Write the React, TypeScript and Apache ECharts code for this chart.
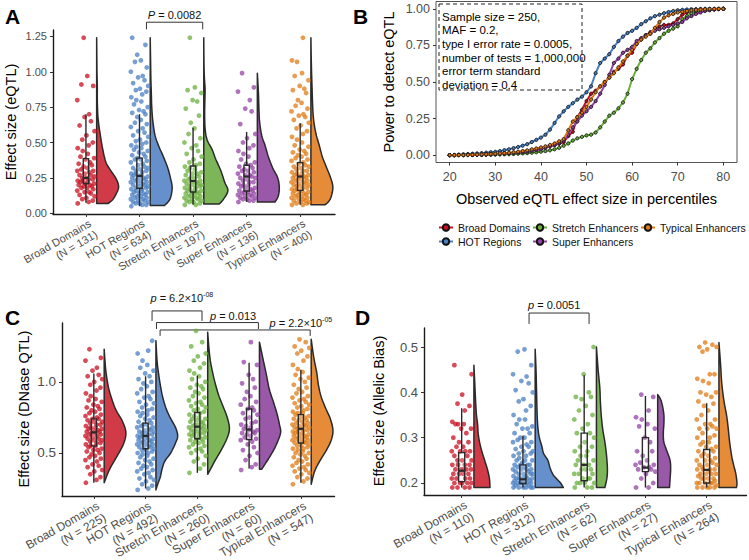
import React, { useEffect, useRef } from "react";
import * as echarts from "echarts";

const FONT = "'Liberation Sans', Arial, Helvetica, sans-serif";

const GROUPS = ["Broad Domains", "HOT Regions", "Stretch Enhancers", "Super Enhancers", "Typical Enhancers"];
const N_A = [131, 634, 197, 136, 400];
const N_C = [225, 492, 260, 60, 547];
const N_D = [110, 312, 62, 27, 264];

const POINT_COLORS = ["#C90F22", "#4A7FC1", "#6AAF3C", "#9344A3", "#E07B14"];
const VIOLIN_COLORS = ["#D13B47", "#6690CB", "#7DB658", "#9A58A8", "#E68C38"];

// ---------- Panel A (eQTL) ----------
const A_BROAD = [0.07,0.08,0.09,0.10,0.11,0.12,0.13,0.14,0.15,0.15,0.16,0.17,0.18,0.18,0.19,0.19,0.20,0.20,0.21,0.21,0.22,0.22,0.23,0.23,0.24,0.24,0.25,0.25,0.26,0.27,0.27,0.28,0.29,0.30,0.30,0.31,0.32,0.33,0.34,0.35,0.36,0.38,0.39,0.40,0.42,0.44,0.46,0.48,0.50,0.52,0.55,0.58,0.62,0.65,0.68,0.70,0.80,0.90,0.91,0.97,1.24];
const A_HOT = [0.05,0.06,0.06,0.07,0.07,0.08,0.08,0.09,0.09,0.10,0.10,0.11,0.11,0.12,0.12,0.13,0.13,0.14,0.14,0.15,0.15,0.16,0.16,0.17,0.17,0.18,0.18,0.19,0.19,0.20,0.20,0.21,0.21,0.22,0.22,0.23,0.23,0.24,0.24,0.25,0.25,0.26,0.26,0.27,0.27,0.28,0.28,0.29,0.30,0.30,0.31,0.32,0.32,0.33,0.34,0.35,0.36,0.37,0.38,0.38,0.39,0.40,0.41,0.42,0.43,0.44,0.45,0.46,0.47,0.48,0.49,0.50,0.51,0.52,0.54,0.55,0.57,0.58,0.60,0.61,0.63,0.64,0.66,0.68,0.70,0.71,0.72,0.73,0.75,0.77,0.79,0.80,0.82,0.84,0.86,0.87,0.88,0.90,0.92,0.94,0.96,0.97,1.00,1.03,1.07,1.08,1.12,1.19,1.24];
const A_STRETCH = [0.06,0.06,0.07,0.08,0.08,0.09,0.09,0.10,0.10,0.11,0.11,0.12,0.12,0.13,0.13,0.14,0.14,0.15,0.15,0.16,0.16,0.17,0.17,0.18,0.18,0.19,0.19,0.20,0.20,0.21,0.21,0.22,0.22,0.23,0.23,0.24,0.25,0.25,0.26,0.27,0.28,0.28,0.29,0.30,0.31,0.32,0.33,0.34,0.35,0.36,0.38,0.40,0.42,0.44,0.46,0.48,0.50,0.53,0.56,0.60,0.64,0.69,0.74,0.79,0.80,0.85,0.87,0.89,1.24];
const A_SUPER = [0.08,0.09,0.09,0.10,0.10,0.11,0.11,0.12,0.12,0.13,0.13,0.14,0.14,0.15,0.15,0.16,0.16,0.17,0.18,0.18,0.19,0.20,0.20,0.21,0.22,0.22,0.23,0.24,0.25,0.25,0.26,0.27,0.27,0.28,0.29,0.30,0.30,0.31,0.32,0.33,0.34,0.35,0.36,0.38,0.40,0.42,0.44,0.46,0.48,0.50,0.53,0.56,0.63,0.72,0.74,0.80,0.86,0.89,0.99];
const A_TYPICAL = [0.06,0.06,0.07,0.07,0.08,0.08,0.09,0.09,0.10,0.10,0.11,0.11,0.12,0.12,0.13,0.13,0.14,0.14,0.15,0.15,0.16,0.16,0.17,0.17,0.18,0.18,0.19,0.19,0.20,0.20,0.21,0.21,0.22,0.22,0.23,0.23,0.24,0.24,0.25,0.25,0.26,0.26,0.27,0.27,0.28,0.28,0.29,0.30,0.30,0.31,0.32,0.33,0.33,0.34,0.35,0.36,0.37,0.38,0.39,0.40,0.41,0.42,0.43,0.44,0.45,0.47,0.48,0.50,0.52,0.54,0.56,0.58,0.60,0.62,0.64,0.66,0.68,0.69,0.70,0.72,0.74,0.76,0.78,0.80,0.85,0.87,0.88,0.90,0.94,0.97,0.99,1.07,1.08,1.24];
// [lower whisker, Q1, median, Q3, upper whisker]
const A_BOXES = [
  [0.075, 0.21, 0.25, 0.386, 0.70],
  [0.05, 0.177, 0.264, 0.39, 0.70],
  [0.06, 0.15, 0.228, 0.334, 0.605],
  [0.08, 0.157, 0.26, 0.339, 0.575],
  [0.06, 0.162, 0.26, 0.358, 0.636],
];
// [value, relative density]
const A_VIOLIN_BROAD = [[0.07,0.53],[0.10,0.75],[0.15,0.93],[0.19,1.0],[0.24,0.9],[0.30,0.65],[0.35,0.45],[0.40,0.35],[0.45,0.28],[0.50,0.22],[0.55,0.17],[0.60,0.12],[0.65,0.08],[0.70,0.05],[0.80,0.03],[0.90,0.03],[1.0,0.015],[1.24,0.0]];
const A_VIOLIN_HOT = [[0.055,0.65],[0.10,0.9],[0.18,1.0],[0.25,0.92],[0.32,0.8],[0.40,0.6],[0.47,0.4],[0.55,0.22],[0.65,0.12],[0.75,0.07],[0.85,0.05],[0.95,0.03],[1.05,0.02],[1.24,0.0]];
const A_VIOLIN_STRETCH = [[0.065,0.7],[0.10,0.9],[0.16,1.1],[0.22,0.95],[0.30,0.78],[0.38,0.55],[0.45,0.38],[0.52,0.15],[0.60,0.06],[0.70,0.04],[0.80,0.05],[0.88,0.06],[0.95,0.03],[1.05,0.01],[1.24,0.0]];
const A_VIOLIN_SUPER = [[0.08,0.8],[0.12,0.95],[0.18,1.0],[0.25,0.93],[0.32,0.7],[0.40,0.5],[0.48,0.35],[0.55,0.2],[0.65,0.1],[0.75,0.07],[0.85,0.05],[0.99,0.0]];
const A_VIOLIN_TYPICAL = [[0.06,0.65],[0.10,0.88],[0.18,1.0],[0.25,0.9],[0.32,0.72],[0.40,0.52],[0.48,0.38],[0.55,0.25],[0.62,0.16],[0.70,0.10],[0.80,0.07],[0.90,0.05],[1.0,0.03],[1.10,0.015],[1.24,0.0]];

// ---------- Panel B (power curves) ----------
const PERCENTILES = [20,21,22,23,24,25,26,27,28,29,30,31,32,33,34,35,36,37,38,39,40,41,42,43,44,45,46,47,48,49,50,51,52,53,54,55,56,57,58,59,60,61,62,63,64,65,66,67,68,69,70,71,72,73,74,75,76,77,78,79,80];
const B_BROAD = [0,0,0.001,0.001,0.002,0.002,0.003,0.004,0.005,0.006,0.008,0.01,0.012,0.014,0.017,0.02,0.024,0.028,0.033,0.038,0.045,0.055,0.062,0.07,0.078,0.09,0.13,0.16,0.26,0.31,0.37,0.42,0.44,0.47,0.50,0.53,0.57,0.59,0.62,0.68,0.70,0.76,0.79,0.82,0.84,0.86,0.88,0.89,0.89,0.90,0.93,0.96,0.975,0.985,0.99,0.993,0.995,0.997,0.998,0.999,1];
const B_HOT = [0,0.002,0.004,0.006,0.008,0.01,0.012,0.014,0.017,0.02,0.023,0.028,0.034,0.04,0.048,0.056,0.065,0.075,0.09,0.105,0.12,0.14,0.175,0.22,0.265,0.30,0.33,0.355,0.38,0.40,0.43,0.47,0.56,0.63,0.66,0.69,0.74,0.78,0.81,0.835,0.85,0.87,0.895,0.915,0.935,0.95,0.96,0.97,0.978,0.985,0.99,0.993,0.995,0.997,0.998,0.999,1,1,1,1,1];
const B_STRETCH = [0,0,0,0,0.001,0.001,0.002,0.002,0.003,0.003,0.004,0.005,0.006,0.007,0.008,0.01,0.012,0.014,0.017,0.02,0.024,0.028,0.033,0.04,0.05,0.065,0.08,0.10,0.115,0.125,0.135,0.14,0.155,0.19,0.23,0.27,0.29,0.32,0.36,0.42,0.52,0.59,0.65,0.70,0.73,0.77,0.80,0.83,0.85,0.865,0.88,0.93,0.95,0.97,0.98,0.985,0.99,0.993,0.996,0.998,1];
const B_SUPER = [0,0,0.001,0.001,0.002,0.002,0.003,0.004,0.005,0.006,0.007,0.009,0.011,0.013,0.015,0.018,0.021,0.025,0.03,0.035,0.04,0.05,0.06,0.07,0.085,0.10,0.14,0.19,0.23,0.27,0.30,0.33,0.37,0.42,0.48,0.55,0.63,0.66,0.70,0.72,0.74,0.78,0.80,0.82,0.83,0.85,0.86,0.87,0.88,0.89,0.90,0.91,0.935,0.95,0.965,0.975,0.985,0.99,0.995,0.998,1];
const B_TYPICAL = [0,0,0.001,0.001,0.002,0.003,0.004,0.005,0.006,0.008,0.01,0.012,0.014,0.017,0.02,0.024,0.028,0.033,0.04,0.046,0.053,0.06,0.07,0.08,0.095,0.11,0.17,0.23,0.26,0.29,0.33,0.38,0.43,0.47,0.50,0.53,0.56,0.60,0.64,0.68,0.72,0.76,0.79,0.81,0.83,0.87,0.91,0.94,0.955,0.965,0.975,0.98,0.985,0.99,0.993,0.995,0.997,0.998,0.999,1,1];
const B_NOTE = "Sample size = 250,\nMAF = 0.2,\ntype I error rate = 0.0005,\nnumber of tests = 1,000,000\nerror term standard\ndeviation = 0.4";

// ---------- Panel C (DNase QTL) ----------
const C_BROAD = [0.29,0.31,0.33,0.35,0.37,0.38,0.40,0.41,0.42,0.44,0.45,0.46,0.47,0.48,0.49,0.50,0.51,0.52,0.52,0.53,0.54,0.55,0.55,0.56,0.57,0.57,0.58,0.59,0.59,0.60,0.60,0.61,0.62,0.62,0.63,0.63,0.64,0.64,0.65,0.65,0.66,0.66,0.67,0.67,0.68,0.68,0.69,0.70,0.70,0.71,0.72,0.72,0.73,0.74,0.74,0.75,0.76,0.77,0.78,0.79,0.80,0.81,0.82,0.83,0.84,0.86,0.87,0.88,0.90,0.92,0.94,0.96,0.98,1.00,1.02,1.04,1.05,1.08,1.10,1.15,1.17,1.23];
const C_HOT = [0.24,0.25,0.27,0.28,0.30,0.31,0.32,0.33,0.35,0.36,0.37,0.38,0.39,0.40,0.41,0.42,0.43,0.44,0.45,0.46,0.47,0.48,0.49,0.50,0.50,0.51,0.52,0.52,0.53,0.54,0.54,0.55,0.55,0.56,0.56,0.57,0.57,0.58,0.58,0.59,0.59,0.60,0.60,0.61,0.61,0.62,0.62,0.63,0.63,0.64,0.64,0.65,0.65,0.66,0.66,0.67,0.68,0.68,0.69,0.70,0.70,0.71,0.72,0.73,0.74,0.75,0.76,0.77,0.78,0.79,0.80,0.81,0.82,0.84,0.85,0.86,0.88,0.89,0.90,0.92,0.93,0.95,0.97,0.99,1.00,1.02,1.04,1.06,1.08,1.10,1.12,1.15,1.20,1.22,1.29];
const C_STRETCH = [0.36,0.39,0.42,0.44,0.46,0.48,0.50,0.51,0.52,0.53,0.54,0.55,0.56,0.57,0.58,0.58,0.59,0.60,0.60,0.61,0.62,0.62,0.63,0.63,0.64,0.64,0.65,0.65,0.66,0.66,0.67,0.67,0.68,0.68,0.69,0.69,0.70,0.70,0.71,0.72,0.72,0.73,0.74,0.74,0.75,0.76,0.77,0.78,0.79,0.80,0.81,0.82,0.83,0.84,0.85,0.86,0.87,0.89,0.90,0.92,0.93,0.95,0.96,0.97,0.98,1.00,1.02,1.04,1.06,1.08,1.10,1.13,1.15,1.18,1.20,1.25,1.28,1.36];
const C_SUPER = [0.38,0.40,0.42,0.45,0.48,0.50,0.52,0.54,0.56,0.58,0.59,0.60,0.61,0.62,0.63,0.64,0.64,0.65,0.66,0.66,0.67,0.68,0.69,0.70,0.71,0.72,0.74,0.75,0.77,0.78,0.80,0.81,0.82,0.84,0.86,0.88,0.90,0.93,0.96,0.99,1.02,1.05,1.12,1.14,1.28];
const C_TYPICAL = [0.28,0.30,0.32,0.33,0.35,0.36,0.37,0.38,0.39,0.40,0.41,0.42,0.43,0.44,0.45,0.46,0.47,0.48,0.49,0.50,0.50,0.51,0.52,0.53,0.53,0.54,0.55,0.55,0.56,0.57,0.57,0.58,0.58,0.59,0.59,0.60,0.60,0.61,0.61,0.62,0.62,0.63,0.63,0.64,0.64,0.65,0.65,0.66,0.66,0.67,0.67,0.68,0.68,0.69,0.69,0.70,0.70,0.71,0.71,0.72,0.73,0.73,0.74,0.75,0.75,0.76,0.77,0.78,0.78,0.79,0.80,0.81,0.82,0.83,0.84,0.85,0.86,0.87,0.88,0.89,0.90,0.92,0.93,0.95,0.96,0.98,1.00,1.02,1.03,1.05,1.07,1.09,1.12,1.15,1.18,1.20,1.22,1.24,1.25,1.28,1.30];
const C_BOXES = [
  [0.29, 0.55, 0.645, 0.74, 1.06],
  [0.25, 0.53, 0.62, 0.71, 1.04],
  [0.36, 0.60, 0.685, 0.785, 1.045],
  [0.39, 0.595, 0.665, 0.81, 1.135],
  [0.29, 0.57, 0.67, 0.77, 1.085],
];
const C_VIOLIN_BROAD = [[0.29,0.0],[0.35,0.15],[0.40,0.3],[0.48,0.6],[0.56,0.88],[0.64,1.0],[0.72,0.85],[0.80,0.55],[0.88,0.35],[0.96,0.2],[1.05,0.1],[1.12,0.05],[1.23,0.0]];
const C_VIOLIN_HOT = [[0.24,0.0],[0.28,0.08],[0.33,0.2],[0.38,0.27],[0.44,0.4],[0.50,0.68],[0.57,0.9],[0.62,1.0],[0.68,0.9],[0.75,0.65],[0.82,0.45],[0.90,0.3],[0.98,0.2],[1.06,0.12],[1.15,0.05],[1.29,0.0]];
const C_VIOLIN_STRETCH = [[0.35,0.0],[0.40,0.18],[0.45,0.35],[0.52,0.62],[0.60,0.88],[0.67,1.0],[0.75,0.9],[0.83,0.7],[0.90,0.52],[0.97,0.38],[1.05,0.25],[1.15,0.12],[1.25,0.05],[1.35,0.0]];
const C_VIOLIN_SUPER = [[0.385,0.1],[0.42,0.25],[0.48,0.5],[0.55,0.75],[0.64,0.97],[0.70,0.92],[0.78,0.8],[0.86,0.64],[0.95,0.45],[1.05,0.32],[1.15,0.18],[1.28,0.0]];
const C_VIOLIN_TYPICAL = [[0.28,0.0],[0.33,0.08],[0.38,0.18],[0.45,0.42],[0.52,0.7],[0.59,0.92],[0.66,1.0],[0.74,0.88],[0.82,0.65],[0.90,0.45],[0.98,0.33],[1.07,0.25],[1.17,0.12],[1.30,0.0]];

// ---------- Panel D (Allelic bias) ----------
const D_BROAD = [0.19,0.19,0.19,0.19,0.20,0.20,0.20,0.20,0.20,0.21,0.21,0.21,0.21,0.22,0.22,0.22,0.22,0.23,0.23,0.23,0.23,0.23,0.24,0.24,0.24,0.24,0.25,0.25,0.25,0.26,0.26,0.27,0.27,0.27,0.27,0.28,0.28,0.29,0.29,0.30,0.31,0.32,0.32,0.33,0.33,0.33,0.335,0.36,0.37,0.375,0.395,0.44,0.46];
const D_HOT = [0.19,0.19,0.19,0.19,0.19,0.19,0.195,0.195,0.20,0.20,0.20,0.20,0.20,0.20,0.20,0.205,0.205,0.21,0.21,0.21,0.21,0.21,0.21,0.215,0.215,0.22,0.22,0.22,0.22,0.225,0.225,0.23,0.23,0.23,0.23,0.235,0.235,0.24,0.24,0.24,0.24,0.245,0.25,0.25,0.25,0.255,0.26,0.26,0.265,0.265,0.27,0.27,0.275,0.28,0.28,0.285,0.29,0.29,0.295,0.30,0.30,0.31,0.31,0.32,0.32,0.325,0.33,0.34,0.34,0.35,0.36,0.37,0.38,0.385,0.40,0.405,0.42,0.425,0.435,0.44,0.46,0.49,0.495];
const D_STRETCH = [0.19,0.19,0.19,0.20,0.20,0.20,0.20,0.21,0.21,0.21,0.22,0.22,0.22,0.23,0.23,0.23,0.24,0.24,0.24,0.25,0.25,0.26,0.26,0.27,0.27,0.28,0.28,0.29,0.30,0.31,0.31,0.32,0.33,0.34,0.35,0.36,0.37,0.385,0.39,0.39,0.40,0.44,0.50];
const D_SUPER = [0.19,0.19,0.20,0.21,0.22,0.225,0.23,0.23,0.235,0.235,0.24,0.24,0.245,0.25,0.26,0.27,0.27,0.29,0.30,0.32,0.325,0.33,0.34,0.345,0.36,0.39,0.395];
const D_TYPICAL = [0.19,0.19,0.19,0.19,0.19,0.195,0.20,0.20,0.20,0.20,0.20,0.205,0.21,0.21,0.21,0.21,0.215,0.22,0.22,0.22,0.22,0.225,0.23,0.23,0.23,0.23,0.235,0.24,0.24,0.24,0.245,0.25,0.25,0.25,0.255,0.26,0.26,0.265,0.27,0.27,0.275,0.28,0.28,0.285,0.29,0.29,0.30,0.30,0.305,0.31,0.32,0.32,0.32,0.325,0.33,0.33,0.34,0.34,0.35,0.36,0.37,0.375,0.38,0.39,0.395,0.40,0.40,0.42,0.425,0.43,0.44,0.44,0.49,0.495,0.50,0.50,0.505,0.51];
const D_BOXES = [
  [0.19, 0.203, 0.227, 0.267, 0.365],
  [0.19, 0.199, 0.208, 0.24, 0.304],
  [0.19, 0.205, 0.24, 0.31, 0.438],
  [0.19, 0.225, 0.234, 0.30, 0.392],
  [0.19, 0.20, 0.229, 0.274, 0.376],
];
const D_VIOLIN_BROAD = [[0.19,0.57],[0.21,0.55],[0.23,0.48],[0.25,0.38],[0.27,0.28],[0.29,0.2],[0.31,0.15],[0.33,0.13],[0.35,0.09],[0.38,0.06],[0.42,0.03],[0.46,0.0]];
const D_VIOLIN_HOT = [[0.19,1.0],[0.20,0.9],[0.21,0.75],[0.22,0.62],[0.235,0.52],[0.25,0.45],[0.265,0.3],[0.28,0.24],[0.30,0.15],[0.32,0.1],[0.35,0.07],[0.40,0.05],[0.45,0.03],[0.495,0.0]];
const D_VIOLIN_STRETCH = [[0.19,0.3],[0.21,0.37],[0.23,0.39],[0.26,0.36],[0.29,0.3],[0.32,0.22],[0.35,0.17],[0.38,0.14],[0.41,0.12],[0.45,0.06],[0.50,0.0]];
const D_VIOLIN_SUPER = [[0.19,0.42],[0.21,0.44],[0.23,0.46],[0.25,0.44],[0.27,0.33],[0.29,0.22],[0.31,0.2],[0.33,0.22],[0.35,0.22],[0.37,0.17],[0.385,0.1],[0.395,0.0]];
const D_VIOLIN_TYPICAL = [[0.19,0.62],[0.20,0.64],[0.22,0.6],[0.24,0.52],[0.26,0.45],[0.29,0.38],[0.32,0.33],[0.35,0.27],[0.38,0.18],[0.42,0.10],[0.46,0.06],[0.51,0.0]];

// ---------- layout constants ----------
const X_MIN = 0.385;
const X_MAX = 5.65;
const JITTER = [-0.9,0.3,0.75,-0.4,0.05,0.95,-0.7,0.55,-0.15,0.35,-0.95,0.8,-0.5,0.15,-0.25,0.65,-0.8,0.45,-0.05,0.9,-0.6,0.2,-0.35];
const JITTER_W = 0.17;
const VIOLIN_OFFSET = 0.2;
const BOX_HALF = 0.05;
const INK = "#2a2a2a";

function smoothCurve(pts: number[][], steps = 5) {
  const out: number[][] = [];
  for (let i = 0; i < pts.length - 1; i++) {
    const p0 = pts[Math.max(0, i - 1)], p1 = pts[i], p2 = pts[i + 1], p3 = pts[Math.min(pts.length - 1, i + 2)];
    for (let s = 0; s < steps; s++) {
      const t = s / steps, t2 = t * t, t3 = t2 * t;
      const f = (k: number) => 0.5 * (2 * p1[k] + (-p0[k] + p2[k]) * t + (2 * p0[k] - 5 * p1[k] + 4 * p2[k] - p3[k]) * t2 + (-p0[k] + 3 * p1[k] - 3 * p2[k] + p3[k]) * t3);
      out.push([f(0), f(1)]);
    }
  }
  out.push(pts[pts.length - 1]);
  return out;
}

function rainSeries(g: number, points: number[][], boxes: number[][], violins: number[][][], vScale: number) {
  const series: any[] = [];
  series.push({
    type: "custom", xAxisIndex: g, yAxisIndex: g, silent: true, z: 1,
    data: violins.map((v, i) => [i + 1, v[0][0]]),
    renderItem: (params: any, api: any) => {
      const i = params.dataIndex;
      const prof = violins[i];
      const cx = i + 1 + VIOLIN_OFFSET;
      const left = api.coord([cx, prof[0][0]])[0];
      const curve = smoothCurve(prof.map(([v, d]) => api.coord([cx + d * vScale, v]))).map(([x, y]) => [Math.max(x, left), y]);
      const bottom = api.coord([cx, prof[0][0]]);
      const top = api.coord([cx, prof[prof.length - 1][0]]);
      return {
        type: "polygon",
        shape: { points: [bottom, ...curve, top] },
        style: { fill: VIOLIN_COLORS[i], stroke: INK, lineWidth: 1.5, lineJoin: "round" },
      };
    },
  });
  points.forEach((vals, k) => {
    series.push({
      type: "scatter", xAxisIndex: g, yAxisIndex: g, silent: true, z: 2,
      symbolSize: 4.8,
      itemStyle: { color: POINT_COLORS[k], opacity: 0.75 },
      data: vals.map((v, i) => [k + 1 + JITTER[i % JITTER.length] * JITTER_W, v]),
    });
  });
  series.push({
    type: "custom", xAxisIndex: g, yAxisIndex: g, silent: true, z: 3,
    data: boxes.map((b, i) => [i + 1, ...b]),
    renderItem: (params: any, api: any) => {
      const x = api.value(0);
      const [mn, q1, md, q3, mx] = [1, 2, 3, 4, 5].map((j) => api.value(j));
      const a = api.coord([x, mn]), b = api.coord([x, q1]), c = api.coord([x, q3]), d = api.coord([x, mx]);
      const l = api.coord([x - BOX_HALF, md]), r = api.coord([x + BOX_HALF, md]);
      const st = { stroke: INK, lineWidth: 1.4 };
      return {
        type: "group",
        children: [
          { type: "line", shape: { x1: a[0], y1: a[1], x2: b[0], y2: b[1] }, style: st },
          { type: "line", shape: { x1: c[0], y1: c[1], x2: d[0], y2: d[1] }, style: st },
          { type: "rect", shape: { x: l[0], y: c[1], width: r[0] - l[0], height: b[1] - c[1] }, style: { fill: "rgba(255,255,255,0.15)", stroke: INK, lineWidth: 1.4 } },
          { type: "line", shape: { x1: l[0], y1: l[1], x2: r[0], y2: r[1] }, style: { stroke: INK, lineWidth: 2.2 } },
        ],
      };
    },
  });
  return series;
}

function catXAxis(g: number) {
  return {
    type: "value", gridIndex: g, min: X_MIN, max: X_MAX,
    axisLine: { show: true, onZero: false, lineStyle: { color: "#1a1a1a", width: 1.4 } },
    axisTick: { show: true, length: 3, customValues: [1, 2, 3, 4, 5], lineStyle: { color: "#333" } },
    axisLabel: { show: false },
    splitLine: { show: false },
  };
}

function valYAxis(g: number, min: number, max: number, ticks: number[], digits: number, fontSize: number) {
  return {
    type: "value", gridIndex: g, min, max,
    axisLine: { show: true, onZero: false, lineStyle: { color: "#1a1a1a", width: 1.4 } },
    axisTick: { show: true, length: 3, customValues: ticks, lineStyle: { color: "#333" } },
    axisLabel: { customValues: ticks, showMinLabel: true, showMaxLabel: true, formatter: (v: number) => v.toFixed(digits), fontSize, color: "#4d4d4d", margin: 6, fontFamily: FONT },
    splitLine: { show: false },
  };
}

const B_SERIES = [B_BROAD, B_HOT, B_STRETCH, B_SUPER, B_TYPICAL];

function buildOption() {
  const series: any[] = [
    ...rainSeries(0, [A_BROAD, A_HOT, A_STRETCH, A_SUPER, A_TYPICAL], A_BOXES,
      [A_VIOLIN_BROAD, A_VIOLIN_HOT, A_VIOLIN_STRETCH, A_VIOLIN_SUPER, A_VIOLIN_TYPICAL], 0.41),
    ...rainSeries(2, [C_BROAD, C_HOT, C_STRETCH, C_SUPER, C_TYPICAL], C_BOXES,
      [C_VIOLIN_BROAD, C_VIOLIN_HOT, C_VIOLIN_STRETCH, C_VIOLIN_SUPER, C_VIOLIN_TYPICAL], 0.42),
    ...rainSeries(3, [D_BROAD, D_HOT, D_STRETCH, D_SUPER, D_TYPICAL], D_BOXES,
      [D_VIOLIN_BROAD, D_VIOLIN_HOT, D_VIOLIN_STRETCH, D_VIOLIN_SUPER, D_VIOLIN_TYPICAL], 0.46),
  ];
  B_SERIES.forEach((vals, k) => {
    series.push({
      type: "line", name: GROUPS[k], xAxisIndex: 1, yAxisIndex: 1, z: 2 + k,
      data: PERCENTILES.map((p, j) => [p, vals[j]]),
      symbol: "circle", symbolSize: 3.2, showSymbol: true,
      lineStyle: { color: POINT_COLORS[k], width: 2 },
      itemStyle: { color: POINT_COLORS[k], borderColor: "#111", borderWidth: 0.9 },
    });
  });
  const legendBase = {
    orient: "vertical", top: 222, itemGap: 3, itemWidth: 14, itemHeight: 8, padding: 0,
    textStyle: { fontSize: 10.5, color: "#111", fontFamily: FONT },
  };
  return {
    animation: false,
    textStyle: { fontFamily: FONT },
    grid: [
      { left: 53, top: 30, width: 282, height: 184, outerBoundsMode: "none" },
      { left: 436, top: 1.5, width: 301, height: 161, show: true, borderColor: "#555", borderWidth: 1, outerBoundsMode: "none" },
      { left: 62, top: 323, width: 272.5, height: 173, outerBoundsMode: "none" },
      { left: 424, top: 328, width: 322.5, height: 167, outerBoundsMode: "none" },
    ],
    xAxis: [
      catXAxis(0),
      {
        type: "value", gridIndex: 1, min: 17, max: 83,
        axisLine: { show: false, onZero: false },
        axisTick: { show: true, length: 3, customValues: [20, 30, 40, 50, 60, 70, 80], lineStyle: { color: "#333" } },
        axisLabel: { customValues: [20, 30, 40, 50, 60, 70, 80], showMinLabel: true, showMaxLabel: true, fontSize: 12.5, color: "#4d4d4d", margin: 8, fontFamily: FONT },
        splitLine: { show: false },
      },
      catXAxis(2),
      catXAxis(3),
    ],
    yAxis: [
      valYAxis(0, -0.005, 1.295, [0, 0.25, 0.5, 0.75, 1, 1.25], 2, 11),
      {
        type: "value", gridIndex: 1, min: -0.05, max: 1.05,
        axisLine: { show: false, onZero: false },
        axisTick: { show: true, length: 3, customValues: [0, 0.25, 0.5, 0.75, 1], lineStyle: { color: "#333" } },
        axisLabel: { customValues: [0, 0.25, 0.5, 0.75, 1], showMinLabel: true, showMaxLabel: true, formatter: (v: number) => v.toFixed(2), fontSize: 12.5, color: "#4d4d4d", margin: 6, fontFamily: FONT },
        splitLine: { show: false },
      },
      valYAxis(2, 0.197, 1.415, [0.5, 1.0], 1, 13.5),
      valYAxis(3, 0.1735, 0.542, [0.2, 0.3, 0.4, 0.5], 1, 13),
    ],
    legend: [
      { ...legendBase, left: 438, data: [GROUPS[0], GROUPS[1]] },
      { ...legendBase, left: 532, data: [GROUPS[2], GROUPS[3]] },
      { ...legendBase, left: 640, data: [GROUPS[4]] },
    ],
    series,
  };
}

// category tick labels for the raincloud panels
const CAT_LABELS = [
  { g: 0, yMin: -0.005, counts: N_A, fontSize: 11 },
  { g: 2, yMin: 0.197, counts: N_C, fontSize: 12 },
  { g: 3, yMin: 0.1735, counts: N_D, fontSize: 12 },
];

// significance annotations, in data coordinates of each panel
const SIG = [
  { g: 0, x1: 2.13, x2: 3.18, top: 1.35, drop: 1.30, tx: 2.655, ty: 1.40, label: "{i|P} = 0.0082" },
  { g: 2, x1: 2.125, x2: 3.09, top: 1.50, drop: 1.43, tx: 2.70, ty: 1.59, label: "{i|p} = 6.2×10{s|-08}" },
  { g: 2, x1: 2.21, x2: 4.18, top: 1.418, drop: 1.373, tx: 3.69, ty: 1.465, label: "{i|p} = 0.013" },
  { g: 2, x1: 2.28, x2: 5.18, top: 1.366, drop: 1.324, tx: 5.0, ty: 1.415, label: "{i|p} = 2.2×10{s|-05}" },
  { g: 3, x1: 2.10, x2: 3.08, top: 0.575, drop: 0.551, tx: 2.51, ty: 0.593, label: "{i|p} = 0.0051" },
];

export default function App() {
  const ref = useRef<HTMLDivElement>(null);
  useEffect(() => {
    if (!ref.current) return;
    const chart = echarts.init(ref.current, null, { renderer: "svg" });
    chart.setOption(buildOption() as any);
    const px = (g: number, x: number, y: number) => chart.convertToPixel({ gridIndex: g } as any, [x, y]) as number[];
    const elements: any[] = [];
    const letter = (t: string, x: number, y: number) => ({
      type: "text", x, y, style: { text: t, font: "bold 21px " + FONT, fill: "#000", align: "left", verticalAlign: "middle" },
    });
    elements.push(letter("A", 5, 16), letter("B", 353, 16), letter("C", 5, 317), letter("D", 355, 317));
    const vTitle = (t: string, x: number, y: number) => ({
      type: "text", x, y, rotation: Math.PI / 2, style: { text: t, font: "14.5px " + FONT, fill: "#000", align: "center", verticalAlign: "middle" },
    });
    elements.push(vTitle("Effect size (eQTL)", 11, 122), vTitle("Power to detect eQTL", 389, 82),
      vTitle("Effect size (DNase QTL)", 24, 409), vTitle("Effect size (Allelic Bias)", 379, 411));
    elements.push({
      type: "text", x: 586.5, y: 199,
      style: { text: "Observed eQTL effect size in percentiles", font: "14.5px " + FONT, fill: "#000", align: "center", verticalAlign: "middle" },
    });
    elements.push({
      type: "rect", shape: { x: 439, y: 4, width: 143, height: 86 },
      style: { fill: "none", stroke: "#222", lineWidth: 1, lineDash: [4, 3] },
    });
    elements.push({
      type: "text", x: 442, y: 10,
      style: { text: B_NOTE, font: "11.5px " + FONT, fill: "#000", align: "left", verticalAlign: "top", lineHeight: 13.6 },
    });
    CAT_LABELS.forEach((c) => {
      GROUPS.forEach((name, k) => {
        const p = px(c.g, k + 1, c.yMin);
        elements.push({
          type: "text", x: p[0] + 1, y: p[1] + 3, rotation: Math.PI / 6,
          style: {
            text: name + "\n(N = " + c.counts[k] + ")", fontSize: c.fontSize, fontFamily: FONT,
            lineHeight: c.fontSize + 1.5, fill: "#4d4d4d", align: "right", verticalAlign: "top",
          },
        });
      });
    });
    SIG.forEach((s) => {
      const a = px(s.g, s.x1, s.drop), b = px(s.g, s.x1, s.top), c = px(s.g, s.x2, s.top), d = px(s.g, s.x2, s.drop);
      elements.push({ type: "polyline", shape: { points: [a, b, c, d] }, style: { stroke: "#333", lineWidth: 1, fill: "none" } });
      const t = px(s.g, s.tx, s.ty);
      elements.push({
        type: "text", x: t[0], y: t[1],
        style: {
          text: s.label, fontSize: 11, fontFamily: FONT, fill: "#111", align: "center", verticalAlign: "middle", lineHeight: 14,
          rich: { i: { fontStyle: "italic", fontSize: 11, fontFamily: FONT }, s: { fontSize: 7, fontFamily: FONT, verticalAlign: "top", lineHeight: 14 } },
        },
      });
    });
    chart.setOption({ graphic: { elements } } as any);
    return () => chart.dispose();
  }, []);
  return <div ref={ref} style={{ position: "fixed", left: 0, top: 0, width: 749, height: 560, background: "#fff" }} />;
}
